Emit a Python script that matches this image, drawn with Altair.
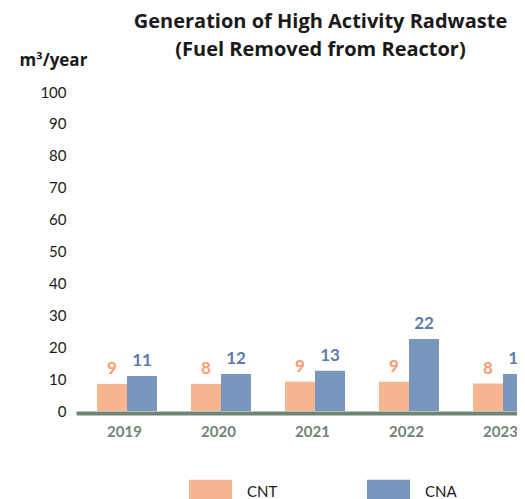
import altair as alt
import pandas as pd

years = ["2019", "2020", "2021", "2022", "2023"]
series = ["CNT", "CNA"]
cnt_values = [8.5, 8.5, 9.2, 9.2, 8.6]
cna_values = [11.0, 11.6, 12.6, 22.6, 11.6]
cnt_labels = ["9", "8", "9", "9", "8"]
cna_labels = ["11", "12", "13", "22", "11"]
bar_colors = ["#F5B690", "#7A96BC"]
label_colors = ["#F4A070", "#5B7BAE"]
y_ticks = [0, 10, 20, 30, 40, 50, 60, 70, 80, 90, 100]

rows = []
for i, yr in enumerate(years):
    rows.append({"year": yr, "series": "CNT", "value": cnt_values[i], "label": cnt_labels[i]})
    rows.append({"year": yr, "series": "CNA", "value": cna_values[i], "label": cna_labels[i]})
df = pd.DataFrame(rows)

FONT = "Lato"
TFONT = "Open Sans"
AXIS_GREEN = "#6E8474"

x_enc = alt.X(
    "year:N",
    sort=years,
    scale=alt.Scale(range=[0, 478], paddingInner=0.3617, paddingOuter=0.2234),
    axis=alt.Axis(
        title=None, labelAngle=0, ticks=False, domainColor=AXIS_GREEN, domainWidth=4,
        labelColor=AXIS_GREEN, labelFontSize=15, labelFontWeight="bold", labelFont=FONT,
        labelPadding=11, labelOffset=-2.5, offset=2, grid=False,
    ),
)
xoff = alt.XOffset("series:N", sort=series, scale=alt.Scale(domain=series, paddingInner=0, paddingOuter=0))
y_enc = alt.Y(
    "value:Q",
    scale=alt.Scale(domain=[0, 100]),
    axis=alt.Axis(
        values=y_ticks, tickCount=11, domain=False, ticks=False, grid=False, labelFontSize=15,
        labelColor="#1a1a1a", labelFont=FONT, labelPadding=10, labelOverlap=False,
        title="m³/year", titleAngle=0, titleAlign="left", titleBaseline="middle",
        titleX=-57, titleY=-32, titleFontSize=17, titleFontWeight="bold",
        titleColor="#1a1a1a", titleFont=TFONT,
    ),
)

bars = alt.Chart(df).mark_bar().encode(
    x=x_enc,
    xOffset=xoff,
    y=y_enc,
    color=alt.Color(
        "series:N",
        sort=series,
        scale=alt.Scale(domain=series, range=bar_colors),
        legend=alt.Legend(
            title=None, orient="none", legendX=113, legendY=378, direction="horizontal",
            symbolType="M-1,-0.558H1V0.558H-1Z", symbolSize=1849, symbolStrokeWidth=0,
            symbolOpacity=1, labelFontSize=15, labelFont=FONT, labelColor="#1a1a1a",
            labelOffset=15, columnPadding=89,
        ),
    ),
)

labels = alt.Chart(df).mark_text(
    baseline="bottom", dy=-6, fontSize=17, fontWeight="bold", font=FONT
).encode(
    x=x_enc,
    xOffset=xoff,
    y=y_enc,
    text="label:N",
    color=alt.Color("series:N", sort=series,
                    scale=alt.Scale(domain=series, range=label_colors), legend=None),
)

chart = (
    alt.layer(bars, labels)
    .resolve_scale(color="independent")
    .properties(
        width=441,
        height=319,
        autosize=alt.AutoSizeParams(type="none"),
        padding={"left": 68, "top": 84, "right": 0, "bottom": 88},
        title=alt.TitleParams(
            text=["Generation of High Activity Radwaste", "(Fuel Removed from Reactor)"],
            font=TFONT, fontSize=20, fontWeight="bold", color="#1a1a1a",
            anchor="middle", frame="group", lineHeight=28, dx=24, offset=-9,
        ),
    )
    .configure_view(stroke=None)
)

chart.save("out.html", embed_options={"renderer": "svg", "actions": False})
